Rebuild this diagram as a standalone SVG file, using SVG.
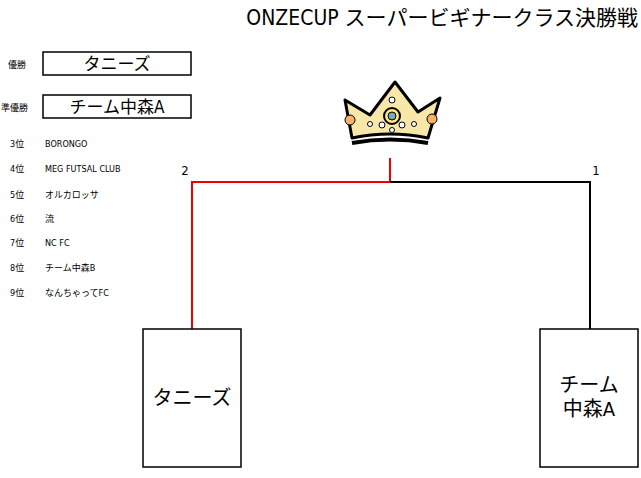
<svg xmlns="http://www.w3.org/2000/svg" width="641" height="478" viewBox="0 0 641 478">
<style>
text{font-family:"DejaVu Sans Condensed","Noto Sans CJK JP",sans-serif;fill:#000}
.s{font-size:9px}.m{font-size:13px}.b{font-size:17px}.c{font-size:20px}.t{font-size:21px}
.box{fill:#fff;stroke:#000;stroke-width:1.5}
</style>
<rect width="641" height="478" fill="#fff"/>
<text class="t" x="638" y="25" text-anchor="end">ONZECUP スーパービギナークラス決勝戦</text>
<g id="winner"><text class="s" x="8" y="68">優勝</text><rect class="box" x="43" y="52" width="148" height="23"/><text class="b" x="117" y="70" text-anchor="middle">タニーズ</text></g>
<g id="runnerup"><text class="s" x="1" y="111">準優勝</text><rect class="box" x="43" y="95" width="148" height="23"/><text class="b" x="117" y="113" text-anchor="middle">チーム中森A</text></g>
<g id="ranks" class="s">
<text class="s" x="10" y="147">3位</text><text class="s" x="45" y="147">BORONGO</text>
<text class="s" x="10" y="172">4位</text><text class="s" x="45" y="172">MEG FUTSAL CLUB</text>
<text class="s" x="10" y="198">5位</text><text class="s" x="45" y="198">オルカロッサ</text>
<text class="s" x="10" y="222">6位</text><text class="s" x="45" y="222">流</text>
<text class="s" x="10" y="246">7位</text><text class="s" x="45" y="246">NC FC</text>
<text class="s" x="10" y="271">8位</text><text class="s" x="45" y="271">チーム中森B</text>
<text class="s" x="10" y="296">9位</text><text class="s" x="45" y="296">なんちゃってFC</text>
</g>
<g id="crown" stroke="#000" stroke-width="3" stroke-linejoin="round">
<path d="M352 138 L345 100 L370 115 L395 82 L418 112 L440 98 L428 138 Q390 130 352 138Z" fill="#f7e7a8"/>
<path d="M352 143 Q390 136 428 143" fill="none" stroke-width="4"/>
<circle cx="350" cy="120" r="5" fill="#f6b26b" stroke-width="1"/>
<circle cx="432" cy="119" r="5" fill="#f6b26b" stroke-width="1"/>
<circle cx="392" cy="116" r="8" fill="#ffe680" stroke-width="2"/>
<circle cx="392" cy="116" r="4" fill="#7ab" stroke-width="1"/>
<g fill="#fff" stroke-width="1"><circle cx="392" cy="100" r="3"/><circle cx="382" cy="125" r="3"/><circle cx="402" cy="125" r="3"/><circle cx="370" cy="124" r="2.5"/><circle cx="414" cy="124" r="2.5"/><circle cx="392" cy="130" r="2.5"/></g>
</g>
<g id="connectors" fill="none" stroke-width="2">
<path d="M192 329 V182 H390 V158" stroke="#e00"/>
<path d="M390 182 H590 V329" stroke="#000"/>
</g>
<text class="m" x="185" y="175" text-anchor="middle">2</text>
<text class="m" x="596" y="175" text-anchor="middle">1</text>
<g id="left"><rect class="box" x="143" y="329" width="98" height="138"/><text class="c" x="192" y="405" text-anchor="middle">タニーズ</text></g>
<g id="right"><rect class="box" x="540" y="329" width="98" height="138"/><text class="c" x="589" y="392" text-anchor="middle">チーム</text><text class="c" x="589" y="416" text-anchor="middle">中森A</text></g>
</svg>
